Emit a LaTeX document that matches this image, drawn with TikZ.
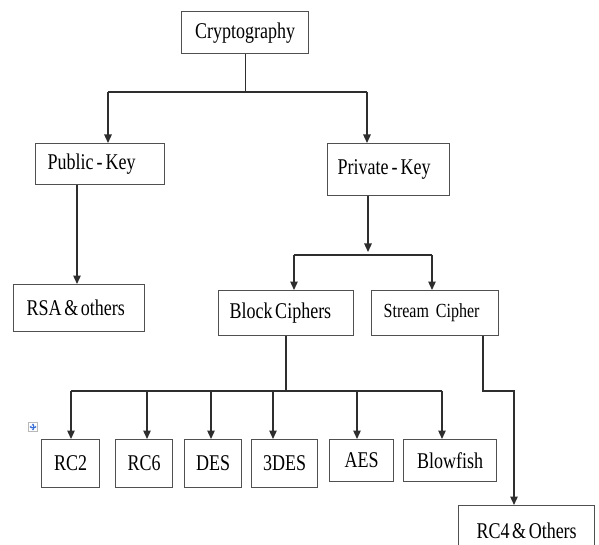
\documentclass[tikz,border=0pt]{standalone}
\usepackage{fontspec}
\usepackage{graphicx}
\setmainfont{Liberation Serif}
\usetikzlibrary{arrows.meta}
\definecolor{boxgray}{HTML}{505050}
\definecolor{linegray}{HTML}{2E2E2E}
\definecolor{handleblue}{HTML}{3A6FD8}
\newcommand{\tightsp}{\spaceskip=2.6pt plus 1pt\relax}
\newcommand{\tallt}[1]{\scalebox{1}[1.25]{\tightsp #1}}
\tikzset{
  box/.style={draw=boxgray, line width=1.3pt, anchor=north west, inner sep=0pt,
    font=\fontsize{18}{20}\selectfont, text=black},
  lbox/.style={box, align=left},
  conn/.style={draw=linegray, line width=1.3pt},
  arr/.style={conn, -{Triangle[length=8.5pt,width=7.5pt]}}
}
\begin{document}
\begin{tikzpicture}[x=1pt,y=-1pt]
\useasboundingbox (0,0) rectangle (599,545);
\clip (0,0) rectangle (599,545);

% boxes
\node[box, minimum width=127pt, minimum height=42pt] (crypt) at (181,11) {\tallt{Cryptography}};
\node[lbox, inner xsep=12pt, text width=105pt, minimum height=41pt] (pub) at (35,143) {\tallt{Public\,-\,Key}};
\node[lbox, inner xsep=10pt, text width=102pt, minimum height=52pt] (priv) at (327,143) {\tallt{Private\,-\,Key}};
\node[lbox, inner xsep=13pt, text width=105pt, minimum height=47pt] (rsa) at (13,284) {\tallt{RSA \& others}};
\node[lbox, inner xsep=11pt, text width=113pt, minimum height=45pt] (block) at (218,290) {\tallt{Block Ciphers}};
\node[lbox, inner xsep=12pt, text width=103pt, minimum height=45pt,
  font=\fontsize{16}{18}\selectfont] (stream) at (371,290) {\tallt{Stream\hspace{7pt}Cipher}};

\node[box, minimum width=58pt, minimum height=48pt] (rc2) at (41,439) {\tallt{RC2}};
\node[box, minimum width=57pt, minimum height=48pt] (rc6) at (115,439) {\tallt{RC6}};
\node[box, minimum width=57pt, minimum height=48pt] (des) at (184,439) {\tallt{DES}};
\node[box, minimum width=66pt, minimum height=48pt] (tdes) at (251,439) {\tallt{3DES}};
\node[box, minimum width=64pt, minimum height=42pt] (aes) at (329,439) {\tallt{AES}};
\node[box, minimum width=93pt, minimum height=42pt] (blow) at (403,439) {\tallt{Blowfish}};
\node[box, minimum width=136pt, minimum height=50pt] (rc4) at (458,505) {\tallt{RC4 \& Others}};

% junction points
\coordinate (tl) at (108,92);
\coordinate (tr) at (367,92);
\coordinate (pk) at (77,0);
\coordinate (pj) at (368,252);
\coordinate (bl) at (294,255);
\coordinate (br) at (432,255);
\coordinate (bj) at (286,391);
\coordinate (s1) at (483,391);
\coordinate (s2) at (514,391);
\coordinate (h1) at (71,391);
\coordinate (h2) at (147,391);
\coordinate (h3) at (211,391);
\coordinate (h4) at (273,391);
\coordinate (h5) at (357,391);
\coordinate (h6) at (442,391);

% Cryptography -> Public / Private
\draw[conn] (crypt.south) |- (tl);
\draw[conn] (crypt.south) |- (tr);
\draw[arr] (tl) -- (tl |- pub.north);
\draw[arr] (tr) -- (tr |- priv.north);

% Public -> RSA
\draw[arr] (pub.south -| pk) -- (rsa.north -| pk);

% Private -> Block / Stream
\draw[arr] (priv.south -| pj) -- (pj);
\draw[conn] (bl) -- (br);
\draw[arr] (bl) -- (bl |- block.north);
\draw[arr] (br) -- (br |- stream.north);

% Block ciphers
\draw[conn] (block.south -| bj) -- (bj);
\draw[conn] (h1) -- (h6);
\draw[arr] (h1) -- (h1 |- rc2.north);
\draw[arr] (h2) -- (h2 |- rc6.north);
\draw[arr] (h3) -- (h3 |- des.north);
\draw[arr] (h4) -- (h4 |- tdes.north);
\draw[arr] (h5) -- (h5 |- aes.north);
\draw[arr] (h6) -- (h6 |- blow.north);

% Stream cipher
\draw[arr] (stream.south -| s1) |- (s2) -- (s2 |- rc4.north);

% table move handle
\draw[gray!55, line width=0.6pt, fill=white] (28.5,422.5) rectangle (37.5,431.5);
\draw[handleblue, line width=0.9pt, {Triangle[length=1.8pt,width=2.6pt]}-{Triangle[length=1.8pt,width=2.6pt]}] (29.6,427) -- (36.4,427);
\draw[handleblue, line width=0.9pt, {Triangle[length=1.8pt,width=2.6pt]}-{Triangle[length=1.8pt,width=2.6pt]}] (33,423.6) -- (33,430.4);
\end{tikzpicture}
\end{document}
